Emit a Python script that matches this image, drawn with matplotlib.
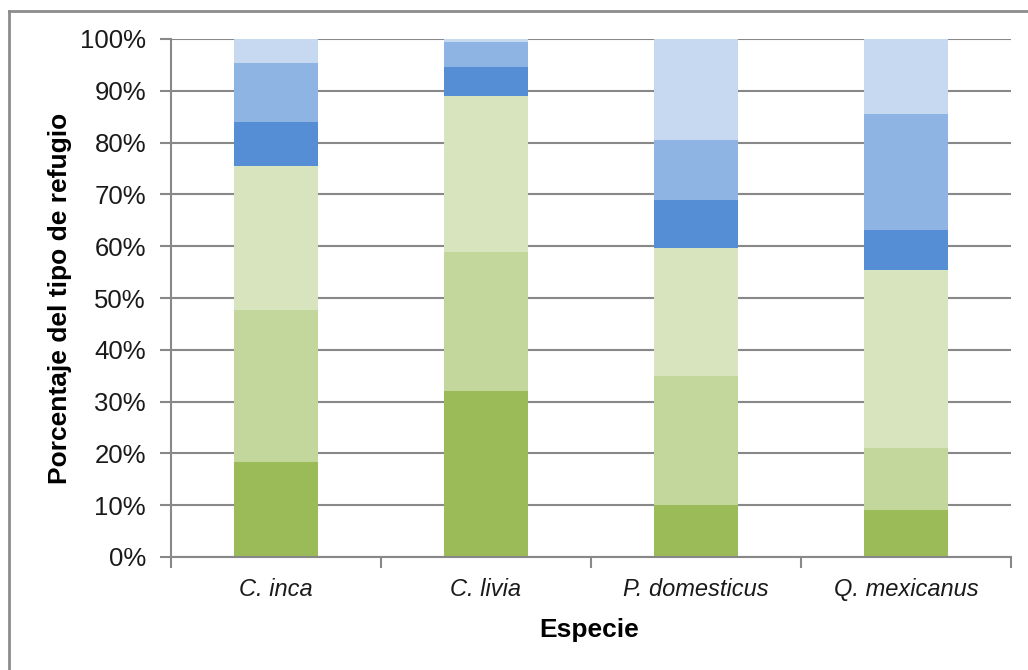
import matplotlib
matplotlib.use("Agg")
import matplotlib.pyplot as plt
from matplotlib.lines import Line2D
import numpy as np

# Species and refuge-type percentages (each bar sums to 100 %)
species = ["C. inca", "C. livia", "P. domesticus", "Q. mexicanus"]
seg1 = [18.3, 32.1, 10.1, 9.0]
seg2 = [29.3, 26.8, 24.8, 12.0]
seg3 = [27.9, 30.1, 24.8, 34.4]
seg4 = [8.5, 5.5, 9.2, 7.7]
seg5 = [11.3, 5.0, 11.6, 22.5]
seg6 = [4.7, 0.5, 19.5, 14.4]

segments = [seg1, seg2, seg3, seg4, seg5, seg6]
colors = ["#9BBB59", "#C3D69B", "#D7E4BD", "#558ED5", "#8EB4E3", "#C6D9F1"]

W, H = 1028, 670
fig = plt.figure(figsize=(W / 100, H / 100), dpi=100)
fig.patch.set_facecolor("white")

left, right, top, bottom = 171, 1011, 39, 557
ax = fig.add_axes([left / W, (H - bottom) / H, (right - left) / W, (bottom - top) / H])

grid_col = "#888888"
x = np.arange(len(species))
base = np.zeros(len(species))
for vals, col in zip(segments, colors):
    ax.bar(x, vals, bottom=base, width=0.4, color=col, edgecolor="none", zorder=3)
    base += np.array(vals)

ax.set_xlim(-0.5, len(species) - 0.5)
ax.set_ylim(0, 100)

ax.set_yticks(np.arange(0, 101, 10))
ax.set_yticklabels([f"{v}%" for v in range(0, 101, 10)],
                   fontfamily="Liberation Sans", fontsize=18.5, color="#1a1a1a")
ax.yaxis.grid(True, color=grid_col, linewidth=1.5, zorder=0)
ax.tick_params(axis="y", length=8, width=1.5, color=grid_col, pad=10)

ax.set_xticks(x)
ax.set_xticklabels(species, fontfamily="Liberation Sans", fontstyle="italic",
                   fontsize=17, color="#1a1a1a")
ax.set_xticks(np.arange(-0.5, len(species), 1.0), minor=True)
ax.tick_params(axis="x", which="major", length=0, pad=15)
ax.tick_params(axis="x", which="minor", length=8, width=1.5, color=grid_col)

for side in ["top", "right"]:
    ax.spines[side].set_visible(False)
for side in ["left", "bottom"]:
    ax.spines[side].set_color(grid_col)
    ax.spines[side].set_linewidth(1.5)
    ax.spines[side].set_zorder(4)

# Axis titles
fig.text(60 / W, 1 - 298 / H, "Porcentaje del tipo de refugio", rotation=90,
         ha="center", va="center", fontfamily="Liberation Sans",
         fontweight="bold", fontsize=19, color="black")
fig.text(589 / W, 1 - 630 / H, "Especie", ha="center", va="center",
         fontfamily="Liberation Sans", fontweight="bold", fontsize=19,
         color="black")

# Chart frame: only the top and left edges fall inside the canvas
fx0, fy0 = 9 / W, 1 - 11 / H
fig.add_artist(Line2D([fx0, 1.0], [fy0, fy0], transform=fig.transFigure,
                      color="#8c8c8c", linewidth=2))
fig.add_artist(Line2D([fx0, fx0], [0.0, fy0], transform=fig.transFigure,
                      color="#8c8c8c", linewidth=2))

fig.savefig("out.png", dpi=100, facecolor="white")
